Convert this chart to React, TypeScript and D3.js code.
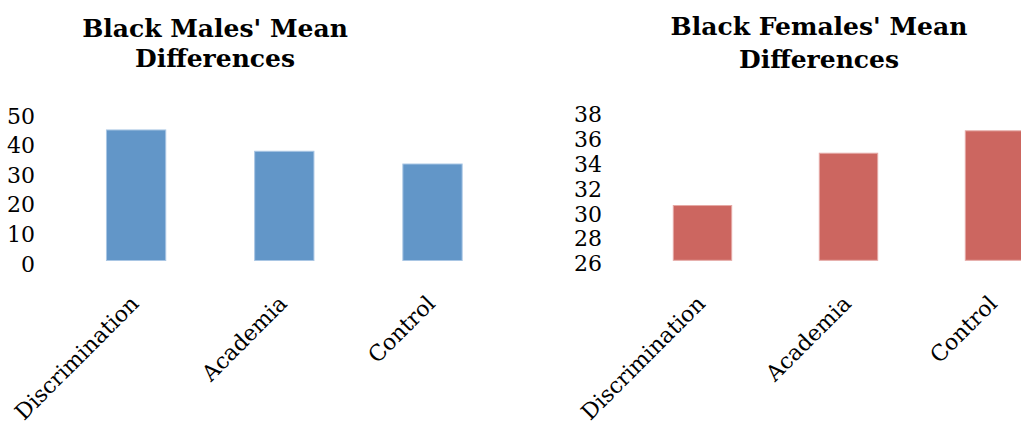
import React, { useEffect, useRef } from 'react';
import * as d3 from 'd3';

const categories = ['Discrimination', 'Academia', 'Control'];
const maleValues = [44.1, 36.9, 32.6];
const femaleValues = [30.4, 34.6, 36.4];
const maleTicks = [0, 10, 20, 30, 40, 50];
const femaleTicks = [26, 28, 30, 32, 34, 36, 38];

const FONT = '"DejaVu Serif", serif';

type PanelProps = {
  title: string[];
  titleX: number;
  titleY: number[];
  values: number[];
  ticks: number[];
  domain: [number, number];
  yRange: [number, number];
  xRange: [number, number];
  axisX: number;
  color: string;
  stroke: string;
};

const Panel = ({ title, titleX, titleY, values, ticks, domain, yRange, xRange, axisX, color, stroke }: PanelProps) => {
  const gRef = useRef<SVGGElement>(null);

  useEffect(() => {
    const g = d3.select(gRef.current);
    g.selectAll('*').remove();

    const x = d3.scaleBand<string>()
      .domain(categories)
      .range(xRange)
      .paddingInner(0.6)
      .paddingOuter(0.3);

    const y = d3.scaleLinear()
      .domain(domain)
      .range(yRange);

    // title
    g.append('text')
      .attr('text-anchor', 'middle')
      .attr('font-family', FONT)
      .attr('font-weight', 'bold')
      .attr('font-size', 25)
      .selectAll('tspan')
      .data(title)
      .join('tspan')
      .attr('x', titleX)
      .attr('y', (d, i) => titleY[i])
      .text(d => d);

    // bars
    g.selectAll('rect.bar')
      .data(values)
      .join('rect')
      .attr('class', 'bar')
      .attr('x', (d, i) => x(categories[i])!)
      .attr('width', x.bandwidth())
      .attr('y', d => y(d))
      .attr('height', d => y(domain[0]) - y(d))
      .attr('fill', color)
      .attr('stroke', stroke)
      .attr('stroke-width', 1);

    // y axis, labels only
    const yAxis = g.append('g')
      .attr('transform', `translate(${axisX}, 0)`)
      .call(d3.axisLeft(y).tickValues(ticks).tickSize(0).tickPadding(0).tickFormat(d3.format('d')));
    yAxis.select('.domain').remove();
    yAxis.selectAll('text')
      .attr('font-family', FONT)
      .attr('font-size', 22)
      .attr('fill', '#000')
      .attr('dy', 10.5);

    // rotated category labels
    g.selectAll('text.cat')
      .data(categories)
      .join('text')
      .attr('class', 'cat')
      .attr('text-anchor', 'end')
      .attr('font-family', FONT)
      .attr('font-size', 22)
      .attr('transform', d => `translate(${x(d)! + x.bandwidth() / 2 + 4}, 305) rotate(-45)`)
      .text(d => d);
  }, [title, values]);

  return <g ref={gRef}></g>;
};

export default function App() {
  return (
    <svg width={1021} height={425} style={{ position: 'absolute', left: 0, top: 0, background: '#fff' }}>
      <Panel
        title={["Black Males' Mean", 'Differences']}
        titleX={215}
        titleY={[37, 67]}
        values={maleValues}
        ticks={maleTicks}
        domain={[0, 50]}
        yRange={[260.5, 112.5]}
        xRange={[62, 506.6]}
        axisX={35}
        color="#6296C8"
        stroke="#A9C6E4"
      />
      <Panel
        title={["Black Females' Mean", 'Differences']}
        titleX={819}
        titleY={[35, 68]}
        values={femaleValues}
        ticks={femaleTicks}
        domain={[26, 38]}
        yRange={[260.3, 110.9]}
        xRange={[629.5, 1067.5]}
        axisX={602}
        color="#CC6660"
        stroke="#E5A9A5"
      />
    </svg>
  );
}
